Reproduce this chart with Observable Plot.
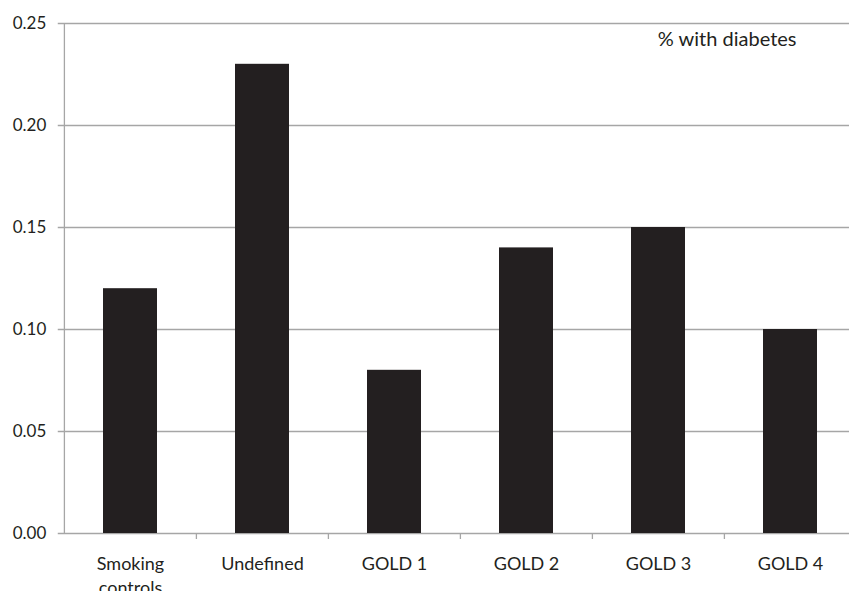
<!DOCTYPE html>
<html>
<head>
<meta charset="utf-8">
<script src="https://cdn.jsdelivr.net/npm/d3@7"></script>
<script src="https://cdn.jsdelivr.net/npm/@observablehq/plot@0.6"></script>
<style>
  html, body { margin: 0; padding: 0; background: #fff; overflow: hidden; }
</style>
</head>
<body>
<div id="chart"></div>
<script>
const categories = ["Smoking\ncontrols", "Undefined", "GOLD 1", "GOLD 2", "GOLD 3", "GOLD 4"];
const values = [0.12, 0.23, 0.08, 0.14, 0.15, 0.10];
const yTicks = [0, 0.05, 0.10, 0.15, 0.20, 0.25];
const legendText = "% with diabetes";

const data = categories.map((c, i) => ({category: c, value: values[i]}));
const ink = "#231f20";
const grid = "#a6a6a6";

const chart = Plot.plot({
  width: 849,
  height: 591,
  marginTop: 23,
  marginBottom: 58,
  marginLeft: 63.75,
  marginRight: 0,
  style: {fontFamily: "Lato", fontSize: "17px", color: ink, background: "#fff"},
  x: {domain: categories, range: [63.75, 857.25], paddingInner: 0.59, paddingOuter: 0.295, label: null},
  y: {domain: [0, 0.25], label: null},
  marks: [
    Plot.ruleY(yTicks, {y: d => d, stroke: grid, strokeWidth: 1.3, insetLeft: -6}),
    Plot.ruleX(categories.slice(0, 1), {x: d => d, y1: 0, y2: 0.25, dx: -66.1, stroke: grid, strokeWidth: 1.3}),
    Plot.ruleX(categories.slice(1), {x: d => d, y1: 0, y2: 0, dx: -66.1, insetTop: 6, stroke: grid, strokeWidth: 1.3}),
    Plot.barY(data, {x: "category", y: "value", fill: ink}),
    Plot.axisY({ticks: yTicks, tickFormat: d3.format(".2f"), tickSize: 0, tickPadding: 18, fill: ink, label: null}),
    Plot.axisX({tickSize: 0, tickPadding: 20, fill: ink, fontSize: 18, lineHeight: 1.3, label: null}),
    Plot.text([legendText], {frameAnchor: "top-right", dx: -53, dy: 16, textAnchor: "end", lineAnchor: "middle", fill: ink, fontSize: 20})
  ]
});
document.getElementById("chart").appendChild(chart);
</script>
</body>
</html>
